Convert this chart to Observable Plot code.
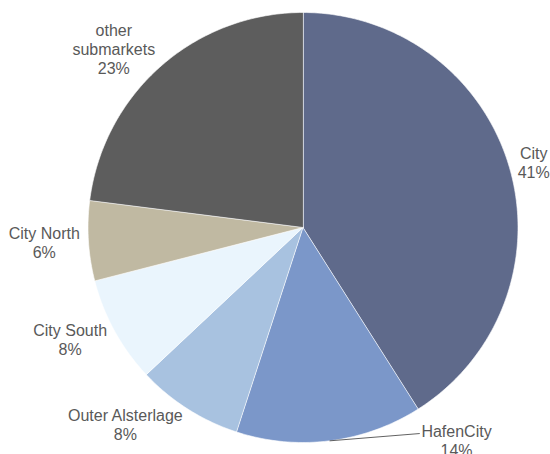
<!DOCTYPE html>
<html><head><meta charset="utf-8">
<script src="https://cdn.jsdelivr.net/npm/d3@7"></script>
<script src="https://cdn.jsdelivr.net/npm/@observablehq/plot@0.6"></script>
<style>body{margin:0;background:#fff;}</style>
</head><body><div id="chart"></div>
<script>
// ---- data ----
const categories = ["City", "HafenCity", "Outer Alsterlage", "City South", "City North", "other submarkets"];
const shares = [41, 14, 8, 8, 6, 23];
const sliceLabels = ["City", "HafenCity", "Outer Alsterlage", "City South", "City North", "other\nsubmarkets"];
const colors = ["#5f6a8b", "#7b97c9", "#a8c2e0", "#eaf5fd", "#c0b9a2", "#5d5d5d"];

// ---- layout ----
const W = 550, H = 454, CX = 302.5, CY = 227, R = 215;
const FONT_SIZE = 16, LINE_H = 19;
const FONT = '"Liberation Sans", Arial, Helvetica, sans-serif';
const TEXT_COLOR = "#595959";
const movedLabels = {"HafenCity": [0.714, -0.991]}; // label pulled inside the frame with a leader line

const data = categories.map((name, i) => ({name, value: shares[i], label: sliceLabels[i]}));
const arcs = d3.pie().sort(null).value(d => d.value)(data);

// slice polygons (unit circle, angle clockwise from top)
const polys = [];
for (const a of arcs) {
  const n = Math.max(2, Math.ceil((a.endAngle - a.startAngle) / (Math.PI / 180)));
  polys.push({name: a.data.name, x: 0, y: 0});
  for (let k = 0; k <= n; k++) {
    const t = a.startAngle + (a.endAngle - a.startAngle) * k / n;
    polys.push({name: a.data.name, x: Math.sin(t), y: Math.cos(t)});
  }
}

// label placement
const ctx = document.createElement("canvas").getContext("2d");
ctx.font = `${FONT_SIZE}px ${FONT}`;
const labels = [], leaders = [];
for (const a of arcs) {
  const mid = (a.startAngle + a.endAngle) / 2;
  const lines = a.data.label.split("\n").concat([`${a.data.value}%`]);
  const w = Math.max(...lines.map(l => ctx.measureText(l).width));
  const h = lines.length * LINE_H;
  let x, y;
  if (movedLabels[a.data.name]) {
    [x, y] = movedLabels[a.data.name];
    const cxp = CX + x * R, cyp = CY - y * R;
    const ex = cxp - w / 2 - 2, ey = cyp - h / 2 + LINE_H / 2 + 2.5;
    leaders.push({x: Math.sin(mid), y: Math.cos(mid)});
    leaders.push({x: (ex - CX) / R, y: (CY - ey) / R});
  } else {
    const px = CX + 1.04 * R * Math.sin(mid), py = CY - 1.04 * R * Math.cos(mid);
    const cxp = px + Math.sign(Math.sin(mid)) * w / 2;
    const cyp = py - Math.cos(mid) * h / 2 * 0.5;
    x = (cxp - CX) / R; y = (CY - cyp) / R;
  }
  labels.push({x, y, text: lines.join("\n")});
}

const chart = Plot.plot({
  width: W, height: H, margin: 0,
  style: {background: "#fff"},
  x: {domain: [-1, 1], range: [CX - R, CX + R], axis: null},
  y: {domain: [-1, 1], range: [CY + R, CY - R], axis: null},
  color: {domain: categories, range: colors},
  marks: [
    Plot.line(polys, {x: "x", y: "y", z: "name", fill: "name", stroke: "#ffffff", strokeWidth: 0.6, curve: "linear-closed"}),
    Plot.line(leaders, {x: "x", y: "y", stroke: "#3a3a3a", strokeWidth: 0.8}),
    Plot.text(labels, {x: "x", y: "y", text: "text", textAnchor: "middle", lineAnchor: "middle",
      lineHeight: LINE_H / FONT_SIZE, fontSize: FONT_SIZE, fontFamily: FONT, fill: TEXT_COLOR})
  ]
});
document.getElementById("chart").appendChild(chart);
</script>
</body></html>
